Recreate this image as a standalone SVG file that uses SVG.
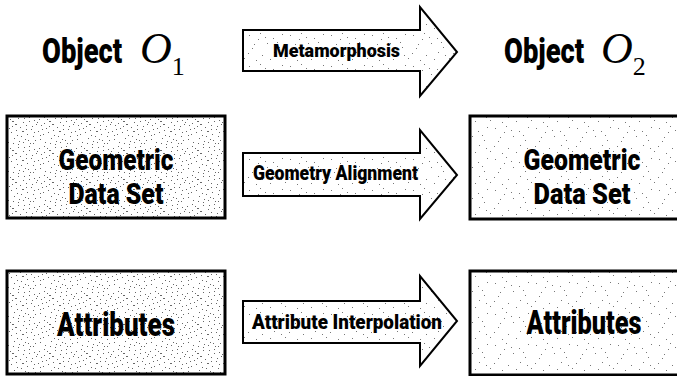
<svg xmlns="http://www.w3.org/2000/svg" width="677" height="376" viewBox="0 0 677 376">
<defs>
<pattern id="dense" width="37" height="29" patternUnits="userSpaceOnUse">
<path fill="#666" d="M2 3h1v1h-1zM7 1h1v1h-1zM12 5h2v1h-2zM18 2h1v1h-1zM23 6h1v1h-1zM29 1h1v1h-1zM34 4h1v1h-1zM4 9h1v1h-1zM9 12h1v1h-1zM15 8h2v1h-2zM20 11h1v1h-1zM26 9h1v1h-1zM31 13h1v1h-1zM36 8h1v1h-1zM1 15h1v1h-1zM6 18h1v1h-1zM11 16h1v1h-1zM17 19h1v1h-1zM22 15h2v1h-2zM27 18h1v1h-1zM33 20h1v1h-1zM3 23h1v1h-1zM8 26h1v1h-1zM14 22h1v1h-1zM19 25h1v1h-1zM25 23h1v1h-1zM30 27h1v1h-1zM35 24h1v1h-1zM10 3h1v1h-1zM16 14h1v1h-1zM24 2h1v1h-1zM28 24h1v1h-1zM5 13h1v1h-1zM21 20h1v1h-1zM32 10h1v1h-1zM13 27h1v1h-1zM0 6h1v1h-1zM26 13h1v1h-1zM18 28h1v1h-1zM34 16h1v1h-1zM3 19h1v1h-1zM12 10h1v1h-1zM29 5h1v1h-1zM23 26h1v1h-1zM7 7h1v1h-1zM33 27h1v1h-1z"/>
</pattern>
<pattern id="light" width="41" height="31" patternUnits="userSpaceOnUse">
<path fill="#777" d="M3 4h1v1h-1zM14 2h1v1h-1zM27 7h1v1h-1zM36 3h1v1h-1zM8 13h1v1h-1zM21 12h1v1h-1zM33 16h1v1h-1zM2 22h1v1h-1zM16 24h1v1h-1zM28 21h1v1h-1zM39 27h1v1h-1zM10 29h1v1h-1zM24 28h1v1h-1zM6 17h1v1h-1zM19 6h1v1h-1zM31 11h1v1h-1zM12 8h1v1h-1zM35 24h1v1h-1z"/>
</pattern>
</defs>
<style>
.box{stroke:#000;stroke-width:3}
.dense{fill:url(#dense)}
.light{fill:url(#light)}
.arrow{fill:url(#light);stroke:#000;stroke-width:2;stroke-linejoin:miter}
.t{font-family:Roboto,"Liberation Sans",sans-serif;font-weight:900;fill:#000}
.m{font-family:"Liberation Serif",serif;fill:#000;font-size:44px}
.sub{font-size:26px;font-style:normal}
</style>
<rect width="677" height="376" fill="#fff"/>
<g id="object1">
<text class="t" transform="translate(42 63) scale(0.76 1)" font-size="36">Object</text>
<text class="m" x="140" y="63"><tspan font-style="italic">O</tspan><tspan class="sub" dy="12">1</tspan></text>
</g>
<g id="object2">
<text class="t" transform="translate(504 63) scale(0.76 1)" font-size="36">Object</text>
<text class="m" x="601" y="63"><tspan font-style="italic">O</tspan><tspan class="sub" dy="12">2</tspan></text>
</g>
<g id="geom1">
<rect class="box dense" x="7" y="116" width="218" height="102"/>
<text class="t" x="116" y="170" font-size="29" text-anchor="middle" textLength="115" lengthAdjust="spacingAndGlyphs">Geometric</text>
<text class="t" x="116" y="204" font-size="29" text-anchor="middle" textLength="95" lengthAdjust="spacingAndGlyphs">Data Set</text>
</g>
<g id="geom2">
<rect class="box light" x="470" y="116" width="220" height="103"/>
<text class="t" x="582" y="170" font-size="29" text-anchor="middle" textLength="117" lengthAdjust="spacingAndGlyphs">Geometric</text>
<text class="t" x="582" y="204" font-size="29" text-anchor="middle" textLength="97" lengthAdjust="spacingAndGlyphs">Data Set</text>
</g>
<g id="attr1">
<rect class="box dense" x="7" y="271" width="218" height="103"/>
<text class="t" x="116" y="336" font-size="33" text-anchor="middle" textLength="118" lengthAdjust="spacingAndGlyphs">Attributes</text>
</g>
<g id="attr2">
<rect class="box light" x="470" y="271" width="220" height="104"/>
<text class="t" x="584" y="334" font-size="33" text-anchor="middle" textLength="115" lengthAdjust="spacingAndGlyphs">Attributes</text>
</g>
<g id="connectors">
<g id="metamorphosis">
<path class="arrow" d="M243 30H420V7L457 52L420 96V71H243Z"/>
<text class="t" x="273" y="57" font-size="19" textLength="127" lengthAdjust="spacingAndGlyphs">Metamorphosis</text>
</g>
<g id="alignment">
<path class="arrow" d="M243 153H420V130L457 175L420 219V196H243Z"/>
<text class="t" x="253" y="180" font-size="20" textLength="165" lengthAdjust="spacingAndGlyphs">Geometry Alignment</text>
</g>
<g id="interpolation">
<path class="arrow" d="M243 301H420V276L457 321L420 366V343H243Z"/>
<text class="t" x="252" y="329" font-size="21" textLength="190" lengthAdjust="spacingAndGlyphs">Attribute Interpolation</text>
</g>
</g>
</svg>
